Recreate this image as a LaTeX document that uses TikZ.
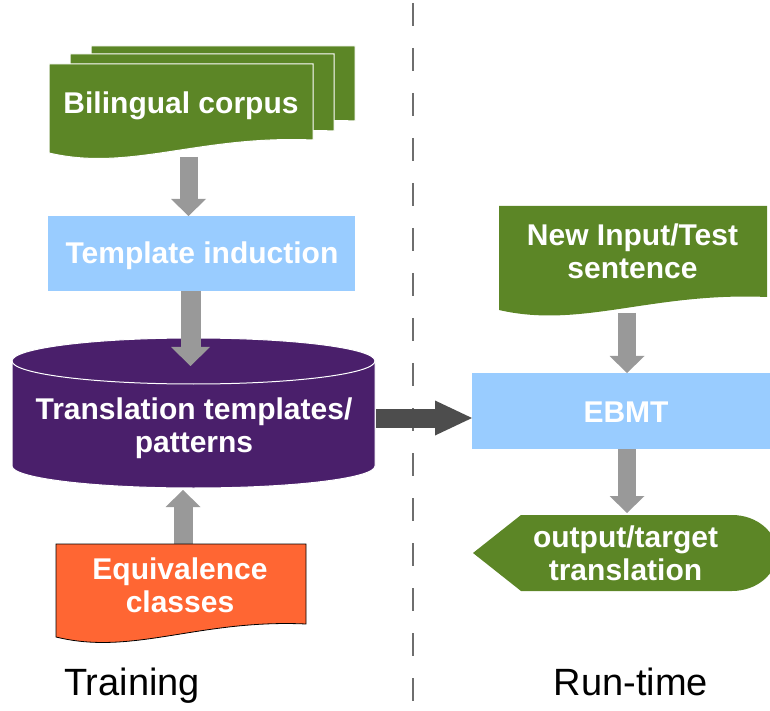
\documentclass[tikz,border=0pt]{standalone}
\usepackage{fontspec}
\setmainfont{Liberation Sans}
\usetikzlibrary{arrows.meta}
\definecolor{docgreen}{RGB}{92,134,38}
\definecolor{cylpurple}{RGB}{74,31,107}
\definecolor{boxblue}{RGB}{153,204,255}
\definecolor{eqorange}{RGB}{255,102,51}
\definecolor{arrowgray}{RGB}{153,153,153}
\definecolor{arrowdark}{RGB}{77,77,77}
\definecolor{dashgray}{RGB}{110,110,110}
% #1 style, #2 left x, #3 right x, #4 top y, #5 y of right bottom corner
\newcommand\mydocshape[5]{%
  \path[#1] (#2,#4) -- (#3,#4) -- (#3,#5)
    .. controls ({#2+0.57*(#3-#2)},{#5+5}) and ({#2+0.307*(#3-#2)},{#5-32}) .. (#2,{#5-13}) -- cycle;}
\begin{document}
\begin{tikzpicture}[x=1pt,y=1pt,
  lbl/.style={text=white, font=\fontsize{30}{33}\selectfont\bfseries, align=center, inner sep=0pt},
  nodepth/.style={text depth=0pt},
  caption/.style={text=black, font=\fontsize{38}{40}\selectfont, inner sep=0pt, text depth=0pt},
  grayarrow/.style={line width=18pt, draw=arrowgray,
     -{Triangle[width=35pt,length=17pt,line width=0pt]}},
  darkarrow/.style={line width=19pt, draw=arrowdark,
     -{Triangle[width=35pt,length=37pt,line width=0pt]}},
  dashline/.style={draw=dashgray, line width=1.5pt, dash pattern=on 23pt off 22pt},
  docstyle/.style={fill=docgreen, draw=white, line width=1pt},
]
\useasboundingbox (0,0) rectangle (770,710);
\clip (0,0) rectangle (770,710);

% divider
\coordinate (divtop) at (413,707);
\coordinate (divbot) at (413,0);
\draw[dashline] (divtop) -- (divbot);

% connector end points
\coordinate (bilb) at (188.5,553);
\coordinate (tmplt) at (188.5,494);
\coordinate (tmplb) at (190.5,419);
\coordinate (cylt) at (190.5,344);
\coordinate (cylr) at (376,292);
\coordinate (ebmtl) at (472,292);
\coordinate (newb) at (627,397);
\coordinate (ebmtt) at (627,337);
\coordinate (ebmtb) at (627,261);
\coordinate (outt) at (627,197);
\coordinate (eqt) at (183,166);
\coordinate (cylb) at (183,220);

% arrows starting below documents
\draw[grayarrow] (bilb) -- (tmplt);
\draw[grayarrow] (newb) -- (ebmtt);
\draw[grayarrow, line width=19pt] (eqt) -- (cylb);

% Bilingual corpus (stack of documents)
\mydocshape{docstyle}{91}{355}{664}{589}
\mydocshape{docstyle}{70}{334}{656}{579}
\mydocshape{docstyle}{49}{313}{646}{570}
\node[lbl, nodepth] (bil) at (181,607.5) {Bilingual corpus};

% Template induction
\fill[boxblue] (48,494) rectangle (355,419);
\node[lbl, nodepth] (tmpl) at (202,457) {Template induction};

% Cylinder
\path[fill=cylpurple, draw=white, line width=1pt] (12,349) -- (12,244)
  arc[start angle=180, end angle=360, x radius=181.5pt, y radius=22pt]
  -- (375,349)
  arc[start angle=0, end angle=180, x radius=181.5pt, y radius=23pt] -- cycle;
\draw[white, line width=1pt] (12,349)
  arc[start angle=180, end angle=360, x radius=181.5pt, y radius=23pt];
\node[lbl] (cyl) at (194,282) {Translation templates/\\patterns};

\draw[grayarrow, line width=20pt, -{Triangle[width=39pt,length=19pt,line width=0pt]}] (tmplb) -- (cylt);

% EBMT
\fill[boxblue] (472,337) rectangle (780,261);
\node[lbl, nodepth] (ebmt) at (626,297.5) {EBMT};

\draw[darkarrow] (cylr) -- (ebmtl);

% New Input / Test sentence
\mydocshape{fill=docgreen}{499}{767}{504}{413}
\node[lbl] (new) at (632.5,459) {New Input/Test\\sentence};

% output display shape
\fill[docgreen] (473,157) -- (521,195) -- (732,195)
  arc[start angle=90, end angle=-90, x radius=45pt, y radius=38pt]
  -- (521,119) -- cycle;
\node[lbl] (out) at (625.5,157) {output/target\\translation};

\draw[grayarrow] (ebmtb) -- (outt);

% Equivalence classes
\mydocshape{fill=eqorange, draw=black, line width=0.8pt}{56}{306}{166}{86}
\node[lbl] (eq) at (180,125) {Equivalence\\classes};

% captions
\node[caption] (train) at (132,28) {Training};
\node[caption] (run) at (631,28) {Run-time};
\end{tikzpicture}
\end{document}
